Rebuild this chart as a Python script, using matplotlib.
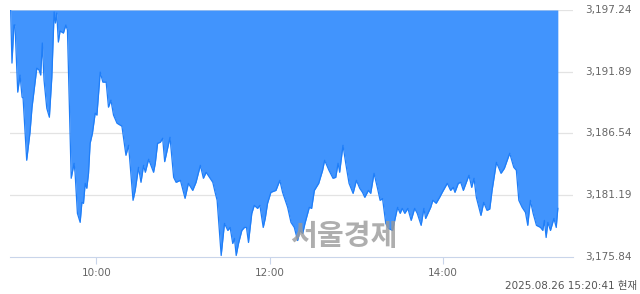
import matplotlib
matplotlib.use("Agg")
import matplotlib.pyplot as plt
import matplotlib.transforms as mtrans

plt.rcParams['font.family'] = ['DejaVu Sans', 'Noto Sans CJK KR']

# minutes after 09:00 and index values
mins = [0.8, 1.7, 3.1, 3.8, 5.7, 7.3, 8.7, 9.4, 11.9, 14.2, 15.6, 18.9, 20.5, 21.6, 22.7,
        23.9, 25.8, 27.6, 29.3, 30.9, 31.8, 32.7, 33.8, 35.0, 37.3, 39.0, 40.1, 42.7, 44.7,
        45.4, 47.0, 48.9, 50.1, 51.2, 52.4, 53.5, 54.7, 55.8, 57.4, 59.3, 60.5, 62.8, 64.6,
        66.9, 68.5, 70.2, 72.0, 74.4, 77.8, 80.6, 82.4, 85.5, 87.0, 89.3, 91.0, 92.8, 94.0,
        96.3, 99.7, 100.9, 102.5, 104.4, 106.0, 107.4, 111.1, 113.6, 115.3, 118.3, 121.5,
        123.8, 126.8, 129.1, 132.1, 134.2, 136.1, 138.4, 140.7, 142.3, 143.7, 146.5, 148.8,
        151.1, 152.7, 154.5, 155.7, 156.9, 158.5, 160.8, 162.6, 164.0, 165.4, 167.7, 169.4,
        171.7, 173.3, 175.6, 177.0, 178.6, 180.9, 184.4, 187.1, 189.0, 192.5, 194.8, 197.1,
        199.4, 201.0, 202.9, 204.5, 207.5, 209.1, 211.0, 214.0, 216.7, 218.1, 221.1, 223.9,
        225.8, 227.4, 228.5, 230.8, 232.7, 235.0, 237.8, 240.1, 242.4, 244.3, 245.9, 248.4,
        250.0, 252.3, 254.7, 256.5, 258.2, 260.4, 262.3, 265.1, 268.6, 270.4, 271.8, 273.6,
        275.7, 278.0, 280.4, 282.2, 284.9, 286.8, 288.0, 291.5, 293.0, 295.3, 297.7, 299.5,
        303.0, 305.3, 307.1, 308.3, 310.6, 312.3, 314.1, 318.0, 319.9, 321.5, 323.1, 326.3,
        328.2, 330.5, 332.4, 334.0, 337.0, 340.2, 342.5, 346.2, 349.0, 350.8, 352.5, 354.8,
        357.1, 358.7, 360.5, 362.4, 364.7, 367.5, 369.1, 370.2, 371.4, 372.6, 374.4, 376.8,
        378.4, 379.5]
vals = [3197.24, 3192.64, 3195.94, 3195.94, 3190.12, 3191.60, 3189.69, 3189.60, 3184.22,
        3186.65, 3188.82, 3192.20, 3192.03, 3191.60, 3194.38, 3191.16, 3188.73, 3187.95,
        3191.42, 3197.07, 3196.11, 3196.98, 3194.46, 3195.42, 3195.24, 3195.94, 3195.50,
        3182.66, 3183.96, 3183.09, 3179.62, 3178.84, 3180.57, 3180.49, 3182.22, 3181.79,
        3183.09, 3185.69, 3186.56, 3188.30, 3188.13, 3191.86, 3190.99, 3190.99, 3188.82,
        3189.43, 3188.13, 3187.43, 3187.17, 3184.65, 3185.52, 3180.75, 3181.61, 3183.61,
        3182.31, 3183.78, 3183.18, 3184.31, 3183.18, 3183.96, 3185.69, 3185.78, 3186.13,
        3184.10, 3186.21, 3182.74, 3182.31, 3182.48, 3180.92, 3182.22, 3181.61, 3182.31,
        3183.78, 3182.66, 3183.18, 3182.74, 3182.31, 3181.44, 3180.75, 3175.97, 3178.75,
        3178.14, 3178.40, 3177.01, 3177.45, 3175.97, 3177.01, 3178.14, 3178.40, 3178.40,
        3177.10, 3179.62, 3180.31, 3180.05, 3180.31, 3178.40, 3179.18, 3180.49, 3181.44,
        3181.61, 3182.48, 3181.44, 3180.14, 3178.84, 3178.40, 3177.27, 3178.14, 3177.88,
        3178.75, 3180.14, 3180.05, 3181.61, 3182.22, 3183.35, 3184.22, 3183.35, 3182.66,
        3182.74, 3183.96, 3183.18, 3185.52, 3183.96, 3182.22, 3181.35, 3182.48, 3181.79,
        3181.44, 3181.01, 3181.61, 3181.35, 3183.09, 3181.79, 3180.75, 3180.90, 3178.75,
        3178.31, 3178.14, 3180.14, 3179.62, 3180.05, 3179.62, 3180.05, 3179.01, 3180.05,
        3179.62, 3178.58, 3180.05, 3179.18, 3180.14, 3180.75, 3180.49, 3181.01, 3181.44,
        3182.22, 3181.61, 3181.87, 3181.44, 3182.22, 3182.31, 3181.61, 3182.92, 3181.87,
        3182.66, 3181.01, 3179.44, 3180.57, 3179.88, 3180.00, 3181.61, 3184.04, 3183.09,
        3183.52, 3184.83, 3183.61, 3183.35, 3180.75, 3180.14, 3179.70, 3178.58, 3180.75,
        3179.62, 3178.58, 3178.40, 3178.14, 3179.01, 3177.53, 3178.84, 3178.14, 3179.18,
        3178.40, 3180.05]

y_ticks = [3175.84, 3181.19, 3186.54, 3191.89, 3197.24]
x_ticks = [60, 180, 300]
x_labels = ['10:00', '12:00', '14:00']

fig = plt.figure(figsize=(6.4, 2.94), dpi=100)
ax = fig.add_axes([9.5 / 640, 37 / 294, 563.5 / 640, 247 / 294])
ax.set_xlim(0, 390)
ax.set_ylim(y_ticks[0], y_ticks[-1])

for t in y_ticks[1:]:
    ax.axhline(t, color='#e3e3e3', lw=0.9, zorder=0)

ax.fill_between(mins, vals, y_ticks[-1], color='#4194fd', lw=0, zorder=2)
ax.plot(mins, vals, color='#1f7ef8', lw=0.9, zorder=3)

for s in ['top', 'right', 'left']:
    ax.spines[s].set_visible(False)
ax.spines['bottom'].set_color('#c9d5ea')
ax.set_yticks([])
ax.set_xticks(x_ticks)
ax.set_xticklabels(x_labels, fontsize=7.5, color='#666666')
ax.tick_params(axis='x', length=5, color='#c9d5ea', pad=3)

tr = mtrans.blended_transform_factory(fig.transFigure, ax.transData)
for t in y_ticks:
    ax.text(632 / 640, t, f'{t:,.2f}', transform=tr, ha='right', va='center',
            fontsize=7.5, color='#666666', clip_on=False)

# watermark
ax.text(0.594, 0.083, '서울경제', transform=ax.transAxes, ha='center', va='center',
        fontsize=21, fontweight='bold', color='#9a9a9a', alpha=0.8,
        family=['Noto Sans CJK KR'], zorder=5)

fig.text(637 / 640, 8 / 294, '2025.08.26 15:20:41 현재', ha='right', va='center',
         fontsize=7.5, color='#555555')

fig.savefig('out.png', dpi=100)
